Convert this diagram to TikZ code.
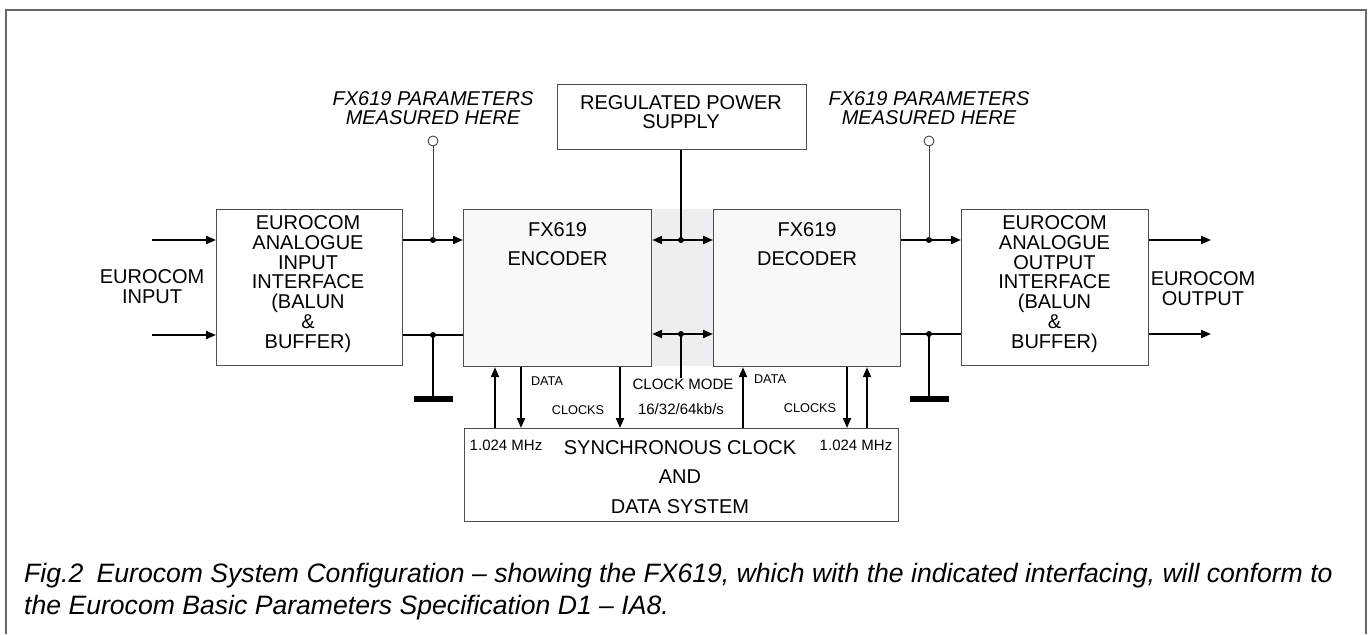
\documentclass[tikz,border=0pt]{standalone}
\usepackage{fontspec}
\setmainfont{Liberation Sans}
\usetikzlibrary{arrows.meta}
\definecolor{band}{RGB}{236,238,241}
\definecolor{chipfill}{RGB}{248,248,248}
\tikzset{
    blk/.style={draw=black!70,line width=1.2pt,fill=white,inner sep=0pt,anchor=north west},
    chip/.style={blk,fill=chipfill},
    lbl/.style={font=\fontsize{20}{19.9}\selectfont,align=center,inner sep=0pt},
    small/.style={font=\fontsize{12.7}{14}\selectfont,inner sep=0pt},
    mid/.style={font=\fontsize{15}{16}\selectfont,inner sep=0pt},
    capt/.style={anchor=base west,inner sep=0pt,font=\fontsize{26.6}{32}\itshape},
    wire/.style={line width=2pt},
    sig/.style={wire,-{Triangle[length=10pt,width=8pt]}},
    bidir/.style={wire,{Triangle[length=10pt,width=8pt]}-{Triangle[length=10pt,width=8pt]}},
}
\newcommand\Junction[2]{% dot #1 at #2
    \fill (#2) circle (3pt) coordinate (#1);
}
\newcommand\Probe[3]{% test point #1 at x of #2, italic label #3
    \node[draw=black!75,circle,minimum size=10pt,inner sep=0pt,line width=0.9pt] (#1) at (#2 |- 0,141) {};
    \draw[black!75,line width=0.9pt] (#1.south) -- (#2);
    \node[lbl,font=\fontsize{20}{19}\itshape] (#1-t) at (#2 |- 0,108) {#3};
}
\newcommand\Ground[2]{% earth bar #1 hanging from #2
    \coordinate (#1) at (#2 |- 0,399);
    \draw[wire] (#2) -- (#1);
    \fill (#1) ++(-19.5,-3) rectangle ++(39,6);
}

\begin{document}
\begin{tikzpicture}[x=1pt,y=-1pt]
    \useasboundingbox (0,0) rectangle (1372,634);
    \draw[black!60,line width=1.3pt] (6,634) |- (1366,10) -- (1366,634);

    % blocks
    \fill[band] (651,209) rectangle (713,366);
    \node[blk,minimum width=249pt,minimum height=65pt] (psu) at (557,84) {};
    \node[blk,minimum width=186pt,minimum height=156pt] (inif) at (216,209) {};
    \node[chip,minimum width=188pt,minimum height=157pt] (enc) at (463,209) {};
    \node[chip,minimum width=187pt,minimum height=157pt] (dec) at (713,209) {};
    \node[blk,minimum width=187pt,minimum height=156pt] (outif) at (961,209) {};
    \node[blk,minimum width=434pt,minimum height=93pt] (sync) at (464,428) {};
    \node[lbl,font=\fontsize{20}{19}\selectfont] (psu-t) at (681,112.5) {REGULATED POWER\\SUPPLY};
    \node[lbl] (inif-t) at (308,284) {EUROCOM\\ANALOGUE\\INPUT\\INTERFACE\\(BALUN\\\&\\BUFFER)};
    \node[lbl] (outif-t) at (1054.5,284) {EUROCOM\\ANALOGUE\\OUTPUT\\INTERFACE\\(BALUN\\\&\\BUFFER)};
    \node[lbl,font=\fontsize{20}{29.5}\selectfont] (enc-t) at (enc.north |- 0,244) {FX619\\ENCODER};
    \node[lbl,font=\fontsize{20}{29.5}\selectfont] (dec-t) at (dec.north |- 0,244) {FX619\\DECODER};
    \node[lbl,font=\fontsize{20}{29.5}\selectfont] (sync-t) at (680,477) {SYNCHRONOUS CLOCK\\AND\\DATA SYSTEM};
    \node[lbl] (in-t) at (152,287) {EUROCOM\\INPUT};
    \node[lbl] (out-t) at (1203,289) {EUROCOM\\OUTPUT};

    % input side
    \coordinate (in1) at (152,240);
    \coordinate (in2) at (152,335);
    \draw[sig] (in1) -- (in1 -| inif.west);
    \draw[sig] (in2) -- (in2 -| inif.west);
    \Junction{ja}{433,240}
    \Junction{jb}{433,335}
    \draw[sig] (inif.east |- ja) -- (enc.west |- ja);
    \draw[wire] (inif.east |- jb) -- (enc.west |- jb);
    \Probe{pa}{ja}{FX619 PARAMETERS\\MEASURED HERE}
    \Ground{ga}{jb}

    % encoder to decoder
    \Junction{jc}{681,240}
    \Junction{jd}{681,334}
    \draw[bidir] (enc.east |- jc) -- (dec.west |- jc);
    \draw[bidir] (enc.east |- jd) -- (dec.west |- jd);
    \draw[wire] (psu.south -| jc) -- (jc);
    \node[mid] (cmode) at (683,384) {CLOCK MODE};
    \node[mid] (rate) at (681,409) {16/32/64kb/s};
    \draw[wire] (jd) -- (jd |- cmode.north);

    % output side
    \Junction{je}{929,240}
    \Junction{jf}{929,334}
    \draw[sig] (dec.east |- je) -- (outif.west |- je);
    \draw[wire] (dec.east |- jf) -- (outif.west |- jf);
    \Probe{pb}{je}{FX619 PARAMETERS\\MEASURED HERE}
    \Ground{gb}{jf}
    \coordinate (out1) at (1211,240);
    \coordinate (out2) at (1211,334);
    \draw[sig] (outif.east |- out1) -- (out1);
    \draw[sig] (outif.east |- out2) -- (out2);

    % clock and data lines
    \draw[sig] (sync.north -| 495,0) -- (enc.south -| 495,0);
    \draw[sig] (enc.south -| 521,0) -- (sync.north -| 521,0);
    \draw[sig] (enc.south -| 620,0) -- (sync.north -| 620,0);
    \draw[sig] (sync.north -| 743,0) -- (dec.south -| 743,0);
    \draw[sig] (dec.south -| 847,0) -- (sync.north -| 847,0);
    \draw[sig] (sync.north -| 867,0) -- (dec.south -| 867,0);
    \node[small] (data-a) at (547,381) {DATA};
    \node[small] (clk-a) at (578,410) {CLOCKS};
    \node[small] (data-b) at (770,379) {DATA};
    \node[small] (clk-b) at (810,408) {CLOCKS};
    \node[mid] (mhz-a) at (506,445) {1.024 MHz};
    \node[mid] (mhz-b) at (856,445) {1.024 MHz};

    % caption
    \node[capt] (cap1) at (24,582) {Fig.2\hspace{0.5em}Eurocom System Configuration – showing the FX619, which with the indicated interfacing, will conform to};
    \node[capt] (cap2) at (24,614) {the Eurocom Basic Parameters Specification D1 – IA8.};
\end{tikzpicture}
\end{document}
